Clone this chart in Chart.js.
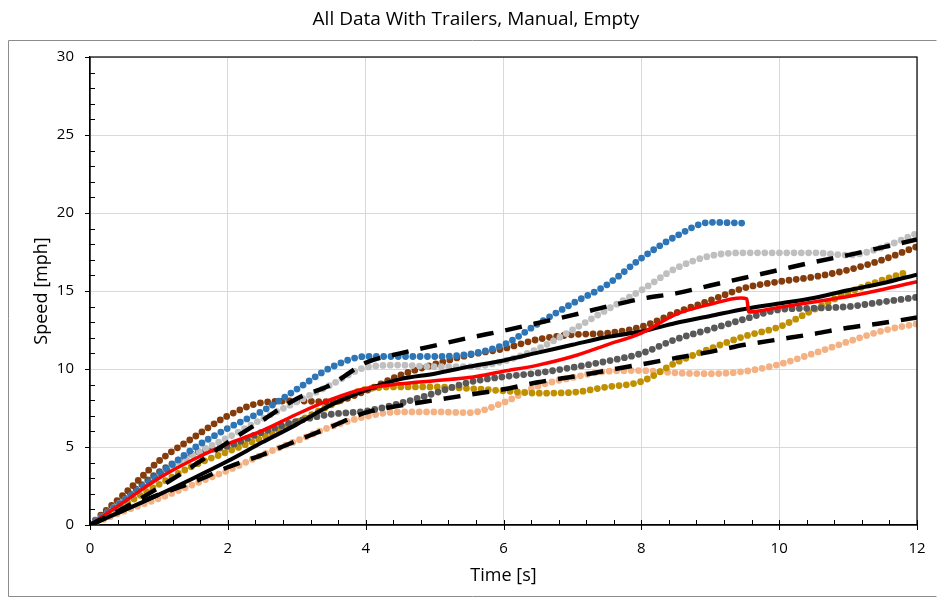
<!DOCTYPE html>
<html><head><meta charset="utf-8">
<script src="https://cdn.jsdelivr.net/npm/chart.js@4.4.1/dist/chart.umd.min.js"></script>
<style>
html,body{margin:0;padding:0;background:#fff;overflow:hidden}
#wrap{position:relative;width:937px;height:600px;overflow:hidden}
#c{display:block}
#title{position:absolute;left:15px;top:0;width:922px;height:36px;line-height:36px;text-align:center;
  font-family:"Open Sans",Lato,sans-serif;font-size:19px;color:#000;white-space:nowrap}
</style>
</head><body><div id="wrap"><canvas id="c" width="937" height="600"></canvas><div id="title"></div></div>
<script>
const TITLE = 'All Data With Trailers, Manual, Empty';
const X_LABEL = 'Time [s]';
const Y_LABEL = 'Speed [mph]';
const X_TICKS = [0, 2, 4, 6, 8, 10, 12];
const Y_TICKS = [0, 5, 10, 15, 20, 25, 30];

const T = [0,0.5,1,1.5,2,2.5,3,3.5,4,4.5,5,5.5,6,6.5,7,7.5,8,8.5,9,9.5,10,10.5,11,11.5,12];
const T_GOLD = [0,0.5,1,1.5,2,2.5,3,3.5,4,4.5,5,5.5,6,6.5,7,7.5,8,8.5,9,9.5,10,10.5,11,11.5,11.85];
const T_RED = [0,0.5,1,1.5,2,2.5,3,3.5,4,4.5,5,5.5,6,6.5,7,7.5,8,8.5,9,9.45,9.53,9.56,10,10.5,11,11.5,12];

const blue      = [0,1.6,3.2,4.9,6.2,7.3,8.7,10.1,10.8,10.8,10.8,10.95,11.55,12.9,14.2,15.4,17.1,18.5,19.4,19.35];
const lightGray = [0,1.6,3.1,4.5,5.6,6.8,7.9,9.0,10.1,10.25,10.15,10.15,10.5,11.3,12.5,13.8,15.05,16.45,17.25,17.45,17.45,17.45,17.3,17.8,18.7];
const brown     = [0,2.0,4.1,5.6,7.0,7.85,7.95,7.9,8.6,9.6,10.3,10.9,11.3,11.9,12.2,12.3,12.7,13.6,14.4,15.2,15.6,15.9,16.35,17.0,17.85];
const darkGray  = [0,1.7,3.4,4.6,5.05,5.95,6.65,7.1,7.3,7.8,8.45,9.15,9.5,9.75,10.1,10.5,11.0,11.9,12.55,13.2,13.8,13.9,14.0,14.3,14.6];
const gold      = [0,1.3,2.6,3.8,4.7,5.6,6.6,7.7,8.7,8.85,8.85,8.75,8.6,8.45,8.5,8.85,9.2,10.4,11.3,12.1,12.7,13.8,14.9,15.7,16.2];
const orange    = [0,0.9,1.7,2.6,3.5,4.5,5.4,6.3,6.95,7.25,7.25,7.2,7.85,8.9,9.45,9.85,9.9,9.75,9.7,9.85,10.3,11.0,11.75,12.45,12.9];
const red       = [0,1.5,3.0,4.2,5.2,6.05,7.1,8.05,8.75,9.05,9.25,9.45,9.85,10.25,10.8,11.55,12.3,13.5,14.15,14.55,14.5,13.65,13.95,14.3,14.65,15.1,15.6];
const black     = [0,0.95,1.95,3.0,4.1,5.3,6.45,7.7,8.65,9.35,9.7,10.15,10.55,11.05,11.55,12.05,12.4,12.95,13.4,13.85,14.2,14.55,15.05,15.5,16.05];
const upperDash = [0,1.1,2.4,3.8,5.3,6.7,8.1,9.0,10.4,11.0,11.5,12.0,12.45,12.95,13.45,14.0,14.5,14.85,15.35,15.85,16.35,16.85,17.3,17.8,18.3];
const lowerDash = [0,1.0,1.95,2.75,3.7,4.5,5.4,6.3,7.2,7.65,8.0,8.35,8.7,9.15,9.5,9.9,10.3,10.7,11.1,11.55,11.9,12.25,12.65,12.95,13.3];

document.getElementById('title').textContent = TITLE;

const FONT = '"Open Sans", Lato, sans-serif';
const pts = (ts, vs) => vs.map((v, i) => ({x: ts[i], y: v}));
const near = (v, list) => list.find(t => Math.abs(t - v) < 1e-6);

const dotted = (data, color) => ({data, borderColor: color, borderWidth: 6.8, borderDash: [0, 7.3],
  borderCapStyle: 'round', pointRadius: 0, fill: false, cubicInterpolationMode: 'monotone'});
const dashed = (data) => ({data, borderColor: '#000', borderWidth: 4.5, borderDash: [17, 12],
  borderCapStyle: 'butt', pointRadius: 0, fill: false, cubicInterpolationMode: 'monotone'});
const solid = (data, color, w) => ({data, borderColor: color, borderWidth: w,
  pointRadius: 0, fill: false, cubicInterpolationMode: 'monotone'});

const frameAndTicks = {
  id: 'frameAndTicks',
  beforeDraw(chart) {
    const c = chart.ctx;
    c.save();
    c.fillStyle = '#fff'; c.fillRect(0, 0, chart.width, chart.height);
    c.strokeStyle = '#8c8c8c'; c.lineWidth = 1;
    c.beginPath();
    c.moveTo(936.5, 40.5); c.lineTo(8.5, 40.5); c.lineTo(8.5, 596.5); c.lineTo(936.5, 596.5);
    c.stroke();
    c.restore();
  },
  afterDraw(chart) {
    const {ctx, chartArea: a, scales: {x, y}} = chart;
    ctx.save();
    ctx.strokeStyle = '#000'; ctx.lineWidth = 1.2;
    ctx.strokeRect(a.left, a.top, a.right - a.left, a.bottom - a.top);
    ctx.lineWidth = 1;
    x.ticks.forEach(t => {
      const px = Math.round(x.getPixelForValue(t.value)) + 0.5;
      ctx.beginPath();
      if (near(t.value, X_TICKS) !== undefined) { ctx.moveTo(px, a.bottom - 5); ctx.lineTo(px, a.bottom + 5); }
      else { ctx.moveTo(px, a.bottom); ctx.lineTo(px, a.bottom - 5); }
      ctx.stroke();
    });
    y.ticks.forEach(t => {
      const py = Math.round(y.getPixelForValue(t.value)) + 0.5;
      ctx.beginPath();
      if (near(t.value, Y_TICKS) !== undefined) { ctx.moveTo(a.left - 5, py); ctx.lineTo(a.left, py); }
      else { ctx.moveTo(a.left, py); ctx.lineTo(a.left + 5, py); }
      ctx.stroke();
    });
    ctx.restore();
  }
};

new Chart(document.getElementById('c'), {
  type: 'line',
  data: {
    datasets: [
      dashed(pts(T, lowerDash)),
      dashed(pts(T, upperDash)),
      solid(pts(T_RED, red), '#FF0000', 3.5),
      solid(pts(T, black), '#000000', 4),
      dotted(pts(T, blue), '#2E75B6'),
      dotted(pts(T, lightGray), '#BFBFBF'),
      dotted(pts(T, brown), '#843C0C'),
      dotted(pts(T, darkGray), '#595959'),
      dotted(pts(T_GOLD, gold), '#BF9000'),
      dotted(pts(T, orange), '#F4B183')
    ]
  },
  options: {
    responsive: false,
    animation: false,
    devicePixelRatio: 1,
    layout: {padding: {left: 0, right: 20, top: 57, bottom: 0}},
    plugins: {
      legend: {display: false},
      tooltip: {enabled: false},
      title: {display: false}
    },
    scales: {
      x: {
        type: 'linear', min: 0, max: 12,
        ticks: {stepSize: 0.4, autoSkip: false, maxRotation: 0, padding: 0, color: '#000',
          font: {family: FONT, size: 15, lineHeight: 3.2},
          callback: v => { const m = near(v, X_TICKS); return m === undefined ? '' : String(m); }},
        grid: {drawTicks: false, lineWidth: 1,
          color: ctx => (ctx.tick && near(ctx.tick.value, X_TICKS) !== undefined) ? '#D9D9D9' : 'rgba(0,0,0,0)'},
        border: {display: true, color: '#000', width: 1.2},
        title: {display: true, text: X_LABEL, color: '#000', font: {family: FONT, size: 18, lineHeight: 1.2},
          padding: {top: 0, bottom: 13.2}},
        afterFit: s => { s.height = 75; }
      },
      y: {
        type: 'linear', min: 0, max: 30,
        ticks: {stepSize: 1, autoSkip: false, padding: 16, color: '#000',
          font: {family: FONT, size: 15},
          callback: v => { const m = near(v, Y_TICKS); return m === undefined ? '' : String(m); }},
        grid: {drawTicks: false, lineWidth: 1,
          color: ctx => (ctx.tick && near(ctx.tick.value, Y_TICKS) !== undefined) ? '#D9D9D9' : 'rgba(0,0,0,0)'},
        border: {display: true, color: '#000', width: 1.2},
        title: {display: true, text: Y_LABEL, color: '#000', font: {family: FONT, size: 18, lineHeight: 1.2},
          padding: {top: 31.2, bottom: 0}},
        afterFit: s => { s.width = 90; }
      }
    }
  },
  plugins: [frameAndTicks]
});
</script>
</body></html>
